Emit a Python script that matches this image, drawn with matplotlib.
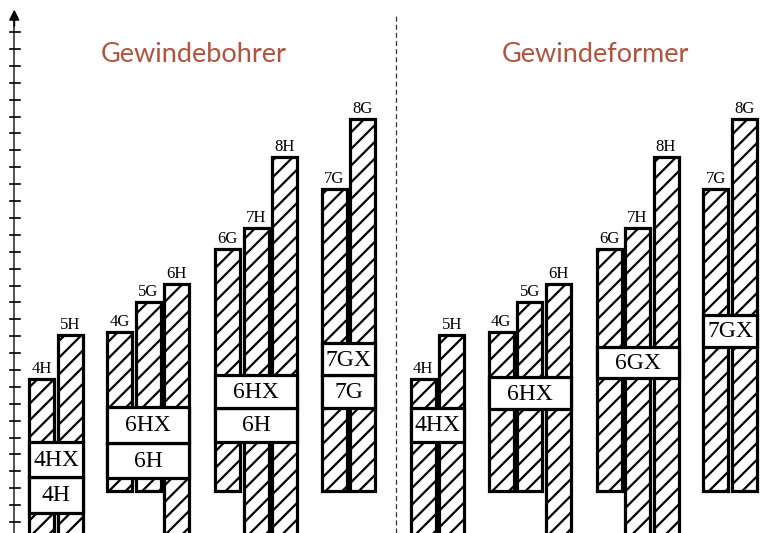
import matplotlib.pyplot as plt
from matplotlib.patches import Rectangle

# tolerance fields, in tick units (one tick = one step on the arrow axis)
bar_labels = [['4H', '5H'], ['4G', '5G', '6H'], ['6G', '7H', '8H'], ['7G', '8G']]
bar_tops = [[8.45, 11.07], [11.23, 13.04, 14.09], [16.15, 17.39, 21.59], [19.70, 23.86]]
bar_bottoms = [[-2, -2], [1.85, 1.85, -2], [1.85, -2, -2], [1.85, 1.85]]

# tool tolerance boxes: labels from bottom to top, and the edges between them
bohrer_box_labels = [['4H', '4HX'], ['6H', '6HX'], ['6H', '6HX'], ['7G', '7GX']]
bohrer_box_edges = [[0.52, 2.68, 4.75], [2.62, 4.70, 6.79], [4.75, 6.73, 8.70], [6.73, 8.70, 10.58]]
former_box_labels = [['4HX'], ['6HX'], ['6GX'], ['7GX']]
former_box_edges = [[4.75, 6.73], [6.67, 8.57], [8.51, 10.38], [10.38, 12.26]]

titles = ['Gewindebohrer', 'Gewindeformer']
n_ticks = 30

plt.rcParams['hatch.linewidth'] = 1.6
serif = 'Liberation Serif'

fig = plt.figure(figsize=(7.68, 5.33), dpi=100)
ax = fig.add_axes([0, 0, 1, 1])
ax.set_xlim(0, 768)
ax.set_ylim(-0.65, 30.9)
ax.axis('off')

group_x = [29.3, 107.3, 215, 321.7]
panel_shift = 381.5
bar_w = 25
pitch = 28.5
lw = 2.3

panels = [(0, bohrer_box_labels, bohrer_box_edges, 194),
          (panel_shift, former_box_labels, former_box_edges, 595)]

for p, (shift, box_labels, box_edges, title_x) in enumerate(panels):
    for g in range(len(bar_labels)):
        x0 = group_x[g] + shift
        for i, lab in enumerate(bar_labels[g]):
            xl = x0 + i * pitch
            bot = bar_bottoms[g][i]
            top = bar_tops[g][i]
            ax.bar(xl, top - bot, bottom=bot, width=bar_w, align='edge',
                   facecolor='white', edgecolor='black', hatch='//', linewidth=lw, zorder=2)
            ax.annotate(lab, (xl + bar_w / 2, top), xytext=(0, 1.5), textcoords='offset points',
                        ha='center', va='bottom', fontsize=12, family=serif)
        # boxes on top of the bars
        x1 = x0 + (len(bar_labels[g]) - 1) * pitch + bar_w
        edges = box_edges[g]
        for k, lab in enumerate(box_labels[g]):
            ax.add_patch(Rectangle((x0, edges[k]), x1 - x0, edges[k + 1] - edges[k],
                                   facecolor='white', edgecolor='black', linewidth=lw, zorder=3))
            ax.text((x0 + x1) / 2, (edges[k] + edges[k + 1]) / 2 - 0.05, lab, ha='center', va='center',
                    fontsize=17, family=serif, zorder=4)
    ax.text(title_x, 27.65, titles[p], ha='center', va='center', fontsize=19.5,
            family='Lato', color='#b0533f')

# arrow axis with ticks
ax.plot([14.3, 14.3], [-0.65, 30.0], color='#444444', lw=1.3, zorder=1)
ax.annotate('', xy=(14.3, 30.5), xytext=(14.3, 29.2),
            arrowprops=dict(arrowstyle='-|>', color='black', lw=1.3, mutation_scale=15))
for t in range(n_ticks):
    ax.plot([9.5, 20], [t, t], color='black', lw=1.2)

# separator between the two panels
ax.plot([396.3, 396.3], [-0.65, 29.95], color='#333333', lw=0.9, ls=(0, (4, 2.5)))

fig.savefig('out.png', dpi=100)
